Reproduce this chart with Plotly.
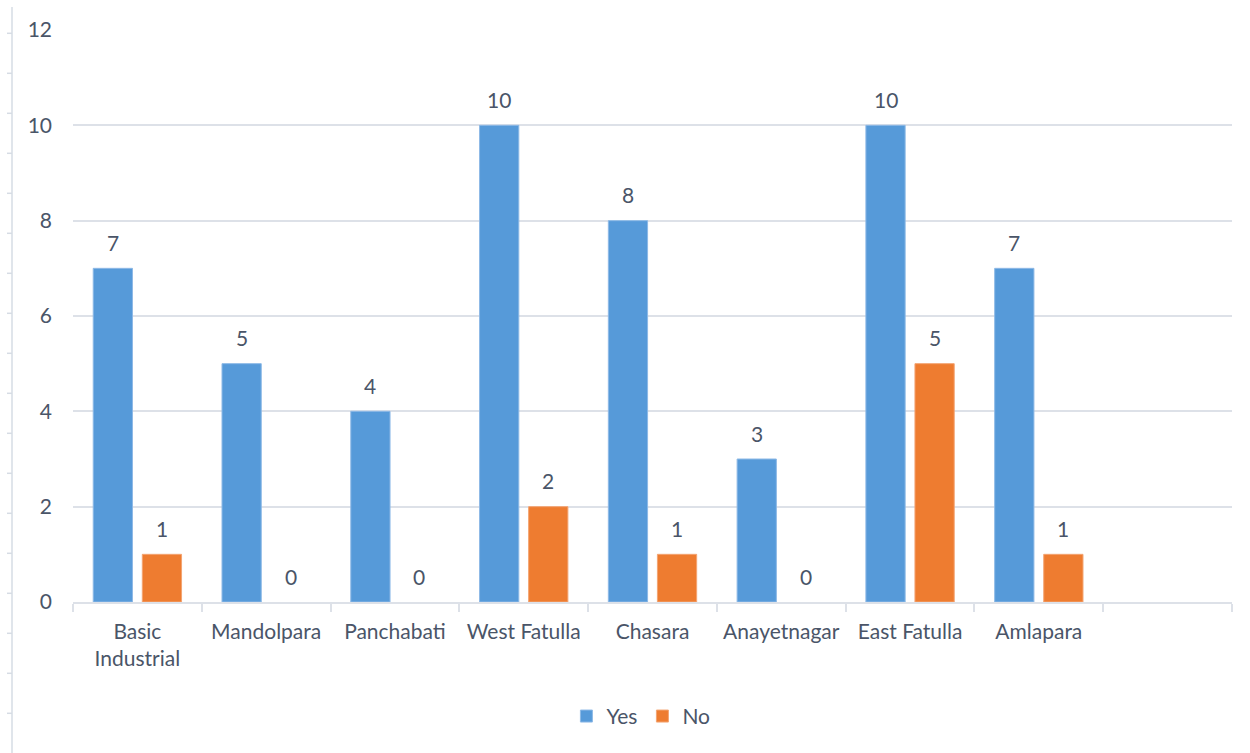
import plotly.graph_objects as go

# Survey responses per area
categories = ["Basic<br>Industrial", "Mandolpara", "Panchabati", "West Fatulla",
              "Chasara", "Anayetnagar", "East Fatulla", "Amlapara", " "]
areas = categories[:8]
yes_values = [7, 5, 4, 10, 8, 3, 10, 7]
no_values = [1, 0, 0, 2, 1, 0, 5, 1]
y_ticks = [0, 2, 4, 6, 8, 10, 12]

TEXT = "#4A5568"
GRID = "#DDE1E8"
FONT = "Lato"
FS = 21

# pixel layout of the plotting area
W, H = 1250, 753
L, R, T, B = 73, 18, 30, 151
PW, PH = W - L - R, H - T - B

def outline(vals):
    # no outline on empty bars so they stay invisible
    return [1 if v > 0 else 0 for v in vals]

fig = go.Figure()
fig.add_trace(go.Bar(name="Yes", x=areas, y=yes_values,
                     marker=dict(color="#569AD9",
                                 line=dict(color="#8DB9E6", width=outline(yes_values)))))
fig.add_trace(go.Bar(name="No", x=areas, y=no_values,
                     marker=dict(color="#EE7C30",
                                 line=dict(color="#F3A472", width=outline(no_values)))))

# value labels above each bar
annotations = []
slot = PW / len(categories)
offset = slot * (1 - 0.238) / 4
for vals, dx in ((yes_values, -offset), (no_values, offset)):
    for a, v in zip(areas, vals):
        annotations.append(dict(x=a, y=v, text=str(v), showarrow=False,
                                xshift=dx, yshift=26, yanchor="middle",
                                font=dict(size=FS, color=TEXT, family=FONT)))

# left-hand ruler with small tick marks
shapes = []
def px(x):
    return (x - L) / PW
def py(y):
    return (H - B - y) / PH
shapes.append(dict(type="line", xref="paper", yref="paper",
                   x0=px(12), x1=px(12), y0=py(7), y1=py(H),
                   line=dict(color="#D6DCE4", width=1.5)))
yy = 33.3
while yy < H:
    shapes.append(dict(type="line", xref="paper", yref="paper",
                       x0=px(7), x1=px(12), y0=py(yy), y1=py(yy),
                       line=dict(color="#D6DCE4", width=1.5)))
    yy += 40

fig.update_layout(
    width=W, height=H,
    margin=dict(l=L, r=R, t=T, b=B, pad=0),
    paper_bgcolor="white", plot_bgcolor="white",
    barmode="group", bargap=0.238, bargroupgap=0.2,
    font=dict(family=FONT, size=FS, color=TEXT),
    showlegend=True,
    legend=dict(orientation="h", x=0.49, xanchor="center", y=-0.2, yanchor="middle",
                font=dict(size=FS, color=TEXT, family=FONT),
                itemwidth=30, tracegroupgap=0, traceorder="normal"),
    annotations=annotations,
    shapes=shapes,
    xaxis=dict(type="category", categoryorder="array", categoryarray=categories,
               range=[-0.5, len(categories) - 0.5],
               showline=True, linecolor=GRID, linewidth=1.5,
               ticks="outside", tickson="boundaries", ticklen=8, tickcolor=GRID,
               tickwidth=1.5, showgrid=False, ticklabelstandoff=10,
               tickfont=dict(size=FS, color=TEXT, family=FONT)),
    yaxis=dict(range=[0, 12], tickvals=y_ticks, showgrid=True, gridcolor=GRID,
               gridwidth=1.5, zeroline=False, showline=False, ticks="",
               ticklabelstandoff=20,
               tickfont=dict(size=FS, color=TEXT, family=FONT)),
)

fig.write_html("out.html")
